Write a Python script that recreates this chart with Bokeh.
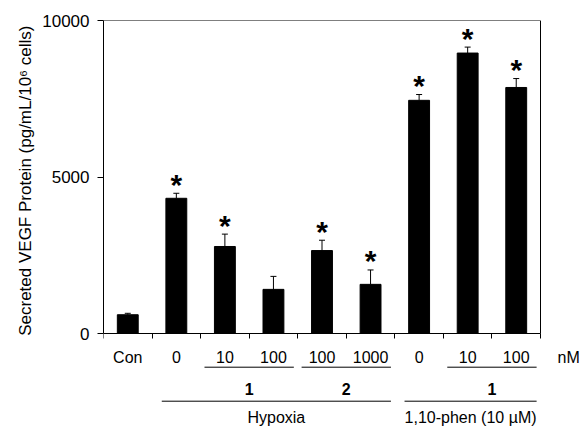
from bokeh.plotting import figure
from bokeh.models import Range1d, FixedTicker, ColumnDataSource, Whisker, TeeHead, Title
from bokeh.core.properties import value
from bokeh.embed import file_html
from bokeh.resources import INLINE

# ---------------- data ----------------
conditions = ["Con", "0", "10", "100", "100", "1000", "0", "10", "100"]
vegf = [600, 4320, 2780, 1410, 2650, 1570, 7450, 8960, 7860]
sem = [45, 160, 395, 415, 330, 460, 185, 190, 285]
significant = [False, True, True, False, True, True, True, True, True]
compound_groups = [("1", 2, 3), ("2", 4, 5), ("1", 7, 8)]
treatment_groups = [("Hypoxia", 1, 5), ("1,10-phen (10 \u00b5M)", 6, 8)]
unit_label = "nM"
y_ticks = [0, 5000, 10000]
y_title = "Secreted VEGF Protein (pg/mL/10\u2076 cells)"

# ---------------- layout ----------------
W, H = 584, 426
FRAME_LEFT, FRAME_TOP, AXIS_Y, PLOT_RIGHT = 103, 20, 333, 540
FONT = "Liberation Sans"
ymax = 10000
n = len(conditions)
px_per_y = (AXIS_Y - FRAME_TOP) / ymax
px_per_x = (PLOT_RIGHT - FRAME_LEFT) / n
y_start = -(H - AXIS_Y) / px_per_y
x_end = -0.5 + (W - FRAME_LEFT) / px_per_x


def below(px):
    """data y for a point px pixels below the x axis"""
    return -px / px_per_y


xs = list(range(n))

p = figure(width=W, height=H, x_range=Range1d(-0.5, x_end), y_range=Range1d(y_start, ymax),
           output_backend="svg", toolbar_location=None,
           min_border_left=FRAME_LEFT, min_border_right=0, min_border_top=FRAME_TOP,
           min_border_bottom=0)
p.grid.visible = False
p.outline_line_color = None

# frame (top and right sides of the plotting box)
p.segment(x0=[-0.5, n - 0.5], y0=[ymax, 0], x1=[n - 0.5, n - 0.5], y1=[ymax, ymax],
          line_color="black", line_width=1)

# bars
p.vbar(x=xs, top=vegf, bottom=0, width=0.43, fill_color="black", line_color="black")

# error bars (upper only)
err_src = ColumnDataSource(dict(x=xs, lower=vegf, upper=[v + e for v, e in zip(vegf, sem)]))
p.add_layout(Whisker(base="x", lower="lower", upper="upper", source=err_src,
                     line_color="black", line_width=1,
                     upper_head=TeeHead(size=6, line_color="black", line_width=1),
                     lower_head=None))

# significance asterisks
sig_x = [x for x, s in zip(xs, significant) if s]
sig_y = [v + e for v, e, s in zip(vegf, sem, significant) if s]
p.text(x=sig_x, y=sig_y, text=["*"] * len(sig_x), text_font=value(FONT),
       text_font_style="bold", text_font_size="30px", text_align="center",
       text_baseline="middle", y_offset=-9, text_color="black")

# y axis
p.yaxis.ticker = FixedTicker(ticks=y_ticks)
p.yaxis.bounds = (0, ymax)
p.yaxis.major_label_text_font = FONT
p.yaxis.major_label_text_font_size = "17px"
p.yaxis.major_label_text_color = "black"
p.yaxis.major_label_standoff = 8
p.yaxis.major_tick_out = 6
p.yaxis.major_tick_in = 0
p.yaxis.minor_tick_out = 0
p.yaxis.minor_tick_in = 0
p.yaxis.axis_line_color = "black"

# y axis title, ending at the top of the value box
p.add_layout(Title(text=y_title, align="right", offset=5, text_color="black",
                   text_font=FONT, text_font_size="17px", text_font_style="normal",
                   standoff=10), "left")

# x axis at y = 0
p.xaxis.fixed_location = 0
p.xaxis.bounds = (-0.5, n - 0.5)
p.xaxis.ticker = FixedTicker(ticks=xs, minor_ticks=[x - 0.5 for x in range(n + 1)])
p.xaxis.major_label_overrides = {x: c for x, c in zip(xs, conditions)}
p.xaxis.major_label_text_font = FONT
p.xaxis.major_label_text_font_size = "16px"
p.xaxis.major_label_text_color = "black"
p.xaxis.major_label_standoff = 10
p.xaxis.major_tick_out = 0
p.xaxis.major_tick_in = 0
p.xaxis.minor_tick_out = 5
p.xaxis.minor_tick_in = 0
p.xaxis.axis_line_color = "black"

# unit label right of the dose labels
p.text(x=[n - 0.5 + 0.58], y=[below(23.7)], text=[unit_label], text_font=value(FONT),
       text_font_size="16px", text_align="center", text_baseline="middle",
       text_color="black")

# compound underlines and labels
cg_x0 = [a - 0.42 for _, a, b in compound_groups]
cg_x1 = [b + 0.42 for _, a, b in compound_groups]
cg_xc = [(a + b) / 2 for _, a, b in compound_groups]
cg_t = [g for g, a, b in compound_groups]
p.segment(x0=cg_x0, x1=cg_x1, y0=[below(33.7)] * len(cg_t), y1=[below(33.7)] * len(cg_t),
          line_color="black", line_width=1)
p.text(x=cg_xc, y=[below(55)] * len(cg_t), text=cg_t, text_font=value(FONT),
       text_font_size="16px", text_font_style="bold", text_align="center",
       text_baseline="middle", text_color="black")

# treatment group lines and labels
tg_x0 = [a - 0.3 for _, a, b in treatment_groups]
tg_x1 = [b + 0.42 for _, a, b in treatment_groups]
tg_xc = [(a + b) / 2 + 0.06 for _, a, b in treatment_groups]
tg_t = [g for g, a, b in treatment_groups]
p.segment(x0=tg_x0, x1=tg_x1, y0=[below(67.7)] * len(tg_t), y1=[below(67.7)] * len(tg_t),
          line_color="black", line_width=1)
p.text(x=tg_xc, y=[below(83.5)] * len(tg_t), text=tg_t, text_font=value(FONT),
       text_font_size="16px", text_align="center", text_baseline="middle",
       text_color="black")

open("out.html", "w").write(file_html(p, INLINE))
